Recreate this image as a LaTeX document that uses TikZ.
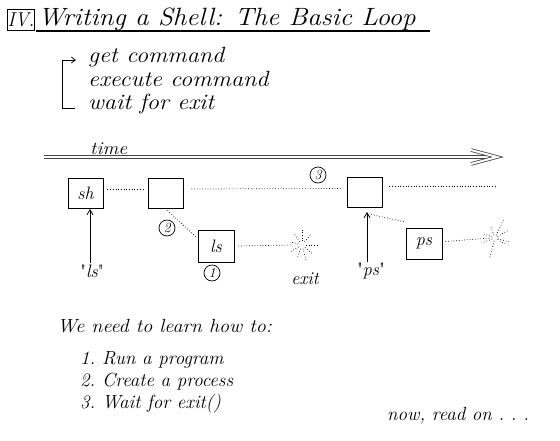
\documentclass[tikz,border=0pt]{standalone}
\usepackage{graphicx}
\usetikzlibrary{arrows.meta,calc}
\newcommand{\hwfont}[1]{\fontsize{#1}{#1}\selectfont\itshape}
\newcommand{\sq}{{\upshape\textquotedbl}}
\begin{document}
\begin{tikzpicture}[x=1pt,y=-1pt,
  hw/.style={inner sep=0pt, anchor=base west, font=\hwfont{#1}},
  pbox/.style={draw, line width=0.8pt, minimum width=35pt, minimum height=30pt, inner sep=0pt, font=\hwfont{18}},
  num/.style={draw, circle, line width=0.7pt, minimum size=16pt, inner sep=0pt, font=\hwfont{14}},
  dots/.style={dotted, line width=0.7pt},
  ray/.style={dotted, line width=0.7pt},
  timeline/.style={gray!55!black, line width=0.8pt, double distance=2pt},
  uparrow/.style={line width=0.8pt, -{Straight Barb[length=5pt,width=6pt]}}
]
\useasboundingbox (0,0) rectangle (560,440);

% title
\node[draw, line width=0.8pt, minimum width=22pt, minimum height=21pt, inner sep=0pt, font=\hwfont{20}] (iv) at (21,19.5) {\scalebox{0.95}[1]{IV.}};
\node[hw=25] (title) at (38,25) {\scalebox{1.08}[1]{Writing a Shell: The Basic Loop}};
\draw[line width=1.5pt] (36,31) -- (430,31);

% loop
\node[hw=22] (get) at (88,62) {\scalebox{1.1}[1]{get command}};
\node[hw=22] (exe) at (88,86) {\scalebox{1.1}[1]{execute command}};
\node[hw=22] (wai) at (88,109) {\scalebox{1.1}[1]{wait for exit}};
\draw[line width=0.8pt, -{Straight Barb[length=4pt,width=6pt]}] (75,108) -- (62,108) -- (62,60) -- (76,60);

% time
\node[hw=18] (time) at (90,154) {\scalebox{1.1}[1]{time}};
\coordinate (t0) at (44,157);
\coordinate (t1) at (497,157);
\draw[timeline] (t0) -- ($(t1)+(-3,0)$);
\draw[timeline, line join=miter] ($(t1)+(-26,-7)$) -- (t1) -- ($(t1)+(-26,7)$);

% process boxes
\node[pbox] (sh) at (85.5,193) {sh};
\node[pbox] (b2) at (165.5,193) {};
\node[pbox] (b3) at (364.5,192.5) {};
\node[pbox, minimum width=36pt, minimum height=32pt] (ls) at (216,246) {ls};
\node[pbox, minimum width=36pt, minimum height=31pt] (ps) at (424,243.5) {ps};

\draw[dots] ($(sh.east)+(4,-4)$) -- ($(b2.west)+(-4,-4)$);
\draw[dots] ($(b2.east)+(8,-4)$) -- ($(b3.west)+(-4,-4)$);
\draw[dots] ($(b3.east)+(7,-6)$) -- ++(107,0);
\draw[dots] ($(b2.south)+(2,2)$) -- ($(ls.north west)+(-1,8)$);

% stars
\coordinate (s1) at (302,245);
\coordinate (s2) at (495,238);
\draw[dots] ($(ls.east)+(4,0)$) -- ($(s1)+(-10,0)$);
\foreach \a/\r in {0/15,40/13,75/16,110/14,150/13,195/12,235/14,270/15,310/14}
  \draw[ray] ($(s1)+(\a:4)$) -- ($(s1)+(\a:\r)$);
\draw[dots] ($(ps.east)+(3,-2)$) -- ($(s2)+(-4,0)$);
\foreach \a/\r in {-30/16,-65/20,30/12,105/20,160/14,200/12,250/13,15/15}
  \draw[ray] ($(s2)+(\a:3)$) -- ($(s2)+(\a:\r)$);

% numbered circles
\node[num] (c1) at (212,273) {1};
\node[num] (c2) at (167,228) {2};
\node[num] (c3) at (318,175) {3};

% labels and arrows
\node[font=\hwfont{18}, inner sep=1pt] (lsq) at (92,271) {\sq ls\sq};
\node[font=\hwfont{18}, inner sep=1pt] (psq) at (371,271) {\sq ps\sq};
\node[font=\hwfont{18}, inner sep=1pt] (ex) at (305,279) {exit};
\draw[uparrow] (lsq.north -| 90,0) -- (90,209);
\coordinate (a3) at (367,212);
\draw[uparrow] (psq.north -| a3) -- (a3);
\draw[dots] ($(ps.north west)+(-2,-6)$) -- ($(a3)+(2,2)$);

% bottom text
\node[hw=19] (need) at (57,332) {\scalebox{1.06}[1]{We need to learn how to:}};
\node[hw=19] (l1) at (80,364) {1.\ Run a program};
\node[hw=19] (l2) at (80,386) {2.\ Create a process};
\node[hw=19] (l3) at (80,408) {3.\ Wait for exit()};
\node[hw=19] (now) at (387,420) {now, read on\ .\ .\ .};
\end{tikzpicture}
\end{document}
